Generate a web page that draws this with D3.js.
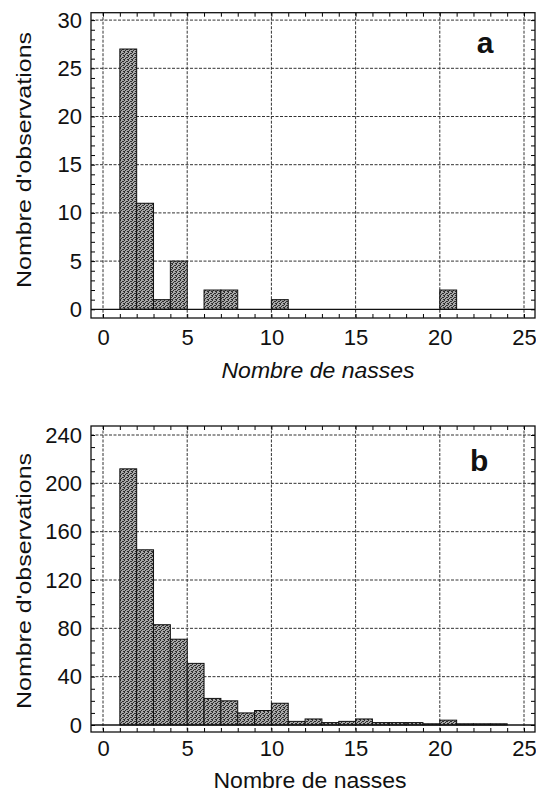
<!DOCTYPE html>
<html>
<head>
<meta charset="utf-8">
<script src="https://cdn.jsdelivr.net/npm/d3@7"></script>
<style>
  body { margin: 0; background: #fff; }
  text { font-family: "Liberation Sans", Arial, sans-serif; fill: #111; }
</style>
</head>
<body>
<svg id="chart" width="536" height="795"></svg>
<script>
// bins of width 1: lower edge of each bin
binStart = [1,2,3,4,5,6,7,8,9,10,11,12,13,14,15,16,17,18,19,20,21,22,23,24];
countsA  = [27,11,1,5,0,2,2,0,0,1,0,0,0,0,0,0,0,0,0,2,0,0,0,0];
countsB  = [212,145,83,71,51,22,20,10,12,18,3,5,2,3,5,2,2,2,1,4,1,1,1,0];
xTicks   = [0,5,10,15,20,25];
yTicksA  = [0,5,10,15,20,25,30];
yTicksB  = [0,40,80,120,160,200,240];
xTitle   = "Nombre de nasses";
yTitle   = "Nombre d'observations";

var svg = d3.select("#chart");

// stipple pattern for the bars
var pat = svg.append("defs").append("pattern")
    .attr("id", "stip").attr("width", 4).attr("height", 4)
    .attr("patternUnits", "userSpaceOnUse");
pat.append("rect").attr("width", 4).attr("height", 4).attr("fill", "#a8a8a8");
[[0,0],[2,1],[1,2],[3,3],[3,1],[0,3]].forEach(function (p) {
  pat.append("rect").attr("x", p[0]).attr("y", p[1]).attr("width", 1).attr("height", 1).attr("fill", "#2e2e2e");
});

var x = d3.scaleLinear().domain([0, 25]).range([103, 524]);
var frameL = 91, frameR = 535;

function panel(opts) {
  var y = d3.scaleLinear().domain([0, opts.max]).range([opts.zero, opts.top]);
  var g = svg.append("g");
  var bins = binStart.map(function (s, i) {return {start: s, count: opts.counts[i]};})
    .filter(function (d) {return d.count > 0;});

  // grid
  g.selectAll(".hg").data(opts.yTicks.filter(function (d) {return d > 0;}))
    .enter().append("line")
    .attr("x1", frameL).attr("x2", frameR)
    .attr("y1", function (d) {return y(d);}).attr("y2", function (d) {return y(d);})
    .attr("stroke", "#333").attr("stroke-width", 1).attr("stroke-dasharray", "3,1.5");
  g.selectAll(".vg").data(xTicks)
    .enter().append("line")
    .attr("x1", function (d) {return x(d);}).attr("x2", function (d) {return x(d);})
    .attr("y1", opts.fTop).attr("y2", opts.fBot)
    .attr("stroke", "#333").attr("stroke-width", 1).attr("stroke-dasharray", "3,1.5");

  // bars
  g.selectAll(".bar").data(bins)
    .enter().append("rect")
    .attr("x", function (d) {return x(d.start);})
    .attr("width", function (d) {return x(d.start + 1) - x(d.start);})
    .attr("y", function (d) {return y(d.count);})
    .attr("height", function (d) {return y(0) - y(d.count);})
    .attr("fill", "url(#stip)").attr("stroke", "#111").attr("stroke-width", 1);

  // zero line
  g.append("line").attr("x1", frameL).attr("x2", frameR)
    .attr("y1", y(0)).attr("y2", y(0)).attr("stroke", "#111").attr("stroke-width", 1.3);

  // minor ticks all round the frame
  var xMinor = d3.range(0, 26, 1);
  g.append("g").attr("transform", "translate(0," + opts.fBot + ")")
    .call(d3.axisTop(x).tickValues(xMinor).tickSize(4).tickFormat(""))
    .call(function (a) {a.select(".domain").remove();});
  g.append("g").attr("transform", "translate(0," + opts.fTop + ")")
    .call(d3.axisBottom(x).tickValues(xMinor).tickSize(4).tickFormat(""))
    .call(function (a) {a.select(".domain").remove();});
  g.append("g").attr("transform", "translate(" + frameL + ",0)")
    .call(d3.axisRight(y).tickValues(opts.yMinor).tickSize(4).tickFormat(""))
    .call(function (a) {a.select(".domain").remove();});
  g.append("g").attr("transform", "translate(" + frameR + ",0)")
    .call(d3.axisLeft(y).tickValues(opts.yMinor).tickSize(4).tickFormat(""))
    .call(function (a) {a.select(".domain").remove();});

  // frame
  g.append("rect").attr("x", frameL).attr("y", opts.fTop)
    .attr("width", frameR - frameL).attr("height", opts.fBot - opts.fTop)
    .attr("fill", "none").attr("stroke", "#111").attr("stroke-width", 1.3);

  // tick labels
  var ya = g.append("g").attr("transform", "translate(" + frameL + ",0)")
    .call(d3.axisLeft(y).tickValues(opts.yTicks).tickSize(0).tickPadding(9));
  ya.select(".domain").remove();
  ya.selectAll("text").style("font-size", "22px").attr("fill", "#111");

  var xa = g.append("g").attr("transform", "translate(0," + opts.fBot + ")")
    .call(d3.axisBottom(x).tickValues(xTicks).tickSize(0).tickPadding(opts.xPad));
  xa.select(".domain").remove();
  xa.selectAll("text").style("font-size", "22px").attr("fill", "#111");

  // titles
  g.append("text").attr("x", opts.xtX).attr("y", opts.xtY)
    .attr("text-anchor", "middle").style("font-size", "22px")
    .style("font-style", opts.italic ? "italic" : "normal")
    .attr("textLength", 193).attr("lengthAdjust", "spacingAndGlyphs")
    .text(xTitle);
  g.append("text")
    .attr("transform", "translate(30.5," + opts.ytY + ") rotate(-90)")
    .attr("text-anchor", "middle").style("font-size", "21px")
    .attr("textLength", 256).attr("lengthAdjust", "spacingAndGlyphs")
    .text(yTitle);

  // panel letter
  g.append("text").attr("x", opts.lx).attr("y", opts.ly)
    .style("font-size", "30px").style("font-weight", "bold")
    .text(opts.letter);
}

panel({counts: countsA, max: 30, zero: 309.3, top: 20.1, fTop: 12.7, fBot: 318,
       yTicks: yTicksA, yMinor: d3.range(0, 31, 1), xPad: 11, italic: true,
       xtX: 318, xtY: 378, ytY: 160, letter: "a", lx: 476.7, ly: 53.3});
panel({counts: countsB, max: 240, zero: 725, top: 435, fTop: 426, fBot: 732,
       yTicks: yTicksB, yMinor: d3.range(0, 241, 10), xPad: 8, italic: false,
       xtX: 310, xtY: 788, ytY: 581, letter: "b", lx: 470, ly: 470.7});
</script>
</body>
</html>
